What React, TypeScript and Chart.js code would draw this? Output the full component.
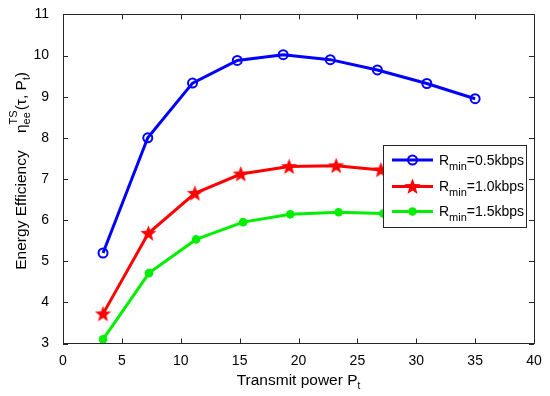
import React, { useEffect, useRef } from "react";
import { Chart, registerables } from "chart.js";

Chart.register(...registerables);

const xTicks = [0, 5, 10, 15, 20, 25, 30, 35, 40];
const yTicks = [3, 4, 5, 6, 7, 8, 9, 10, 11];

const blueX = [3.4, 7.2, 11.0, 14.8, 18.7, 22.7, 26.7, 30.9, 35.0];
const blueY = [5.2, 8.0, 9.33, 9.88, 10.02, 9.9, 9.65, 9.32, 8.95];
const redX = [3.4, 7.25, 11.2, 15.1, 19.2, 23.2, 27.0, 31.0, 35.0];
const redY = [3.72, 5.68, 6.65, 7.12, 7.3, 7.32, 7.22, 7.05, 6.85];
const greenX = [3.4, 7.3, 11.3, 15.3, 19.3, 23.4, 27.2, 31.1, 35.0];
const greenY = [3.1, 4.71, 5.53, 5.95, 6.14, 6.19, 6.16, 6.1, 6.0];

const seriesNames = ["0.5kbps", "1.0kbps", "1.5kbps"];
const seriesColors = ["#0000ff", "#ff0000", "#00ee00"];

const FONT = "'Liberation Sans', Arial, Helvetica, sans-serif";
const AXIS_COLOR = "#262626";

function makeStar(color: string, r: number): HTMLCanvasElement {
  const size = Math.ceil(r * 2 + 2);
  const c = document.createElement("canvas");
  c.width = size;
  c.height = size;
  const ctx = c.getContext("2d")!;
  const cx = size / 2;
  const cy = size / 2 + 0.5;
  const ri = r * 0.42;
  ctx.beginPath();
  for (let i = 0; i < 10; i++) {
    const rad = i % 2 === 0 ? r : ri;
    const a = -Math.PI / 2 + (i * Math.PI) / 5;
    const px = cx + rad * Math.cos(a);
    const py = cy + rad * Math.sin(a);
    if (i === 0) ctx.moveTo(px, py);
    else ctx.lineTo(px, py);
  }
  ctx.closePath();
  ctx.fillStyle = color;
  ctx.fill();
  return c;
}

type Seg = { t: string; size: number; dy: number; stackWith?: boolean };

function segWidth(ctx: CanvasRenderingContext2D, segs: Seg[]): number {
  let w = 0;
  let lastW = 0;
  for (const s of segs) {
    ctx.font = `${s.size}px ${FONT}`;
    const mw = ctx.measureText(s.t).width;
    if (s.stackWith) {
      w += Math.max(0, mw - lastW);
      lastW = Math.max(mw, lastW);
    } else {
      w += mw;
      lastW = mw;
    }
  }
  return w;
}

function drawSegs(ctx: CanvasRenderingContext2D, segs: Seg[], x: number, y: number) {
  let cx = x;
  let lastStart = x;
  let lastW = 0;
  for (const s of segs) {
    ctx.font = `${s.size}px ${FONT}`;
    const mw = ctx.measureText(s.t).width;
    if (s.stackWith) {
      ctx.fillText(s.t, lastStart, y + s.dy);
      cx = lastStart + Math.max(mw, lastW);
      lastW = Math.max(mw, lastW);
    } else {
      lastStart = cx;
      ctx.fillText(s.t, cx, y + s.dy);
      cx += mw;
      lastW = mw;
    }
  }
}

function makeDecorPlugin(star: HTMLCanvasElement) {
  return {
    id: "decor",
    afterDatasetsDraw(chart: any) {
      const ctx: CanvasRenderingContext2D = chart.ctx;
      const { left, right, top, bottom } = chart.chartArea;
      const xs = chart.scales.x;
      const ys = chart.scales.y;
      ctx.save();
      ctx.strokeStyle = AXIS_COLOR;
      ctx.lineWidth = 1;
      ctx.strokeRect(Math.round(left) + 0.5, Math.round(top) + 0.5, Math.round(right - left), Math.round(bottom - top));
      const tl = 5;
      ctx.beginPath();
      for (const v of xTicks) {
        const px = Math.round(xs.getPixelForValue(v)) + 0.5;
        ctx.moveTo(px, bottom);
        ctx.lineTo(px, bottom - tl);
        ctx.moveTo(px, top);
        ctx.lineTo(px, top + tl);
      }
      for (const v of yTicks) {
        const py = Math.round(ys.getPixelForValue(v)) + 0.5;
        ctx.moveTo(left, py);
        ctx.lineTo(left + tl, py);
        ctx.moveTo(right, py);
        ctx.lineTo(right - tl, py);
      }
      ctx.stroke();

      // legend
      const lx = 383.5;
      const ly = 145.5;
      const lw = 143;
      const lh = 82;
      ctx.fillStyle = "#ffffff";
      ctx.fillRect(lx, ly, lw, lh);
      ctx.strokeStyle = AXIS_COLOR;
      ctx.strokeRect(lx, ly, lw, lh);
      const rows = [160, 186.5, 211.5];
      rows.forEach((ry: number, i: number) => {
        ctx.strokeStyle = seriesColors[i];
        ctx.lineWidth = 3;
        ctx.beginPath();
        ctx.moveTo(392, ry);
        ctx.lineTo(433, ry);
        ctx.stroke();
        const mx = 412.5;
        if (i === 0) {
          ctx.lineWidth = 2;
          ctx.beginPath();
          ctx.arc(mx, ry, 4.5, 0, Math.PI * 2);
          ctx.stroke();
        } else if (i === 1) {
          ctx.drawImage(star, mx - star.width / 2, ry - star.height / 2);
        } else {
          ctx.fillStyle = seriesColors[2];
          ctx.beginPath();
          ctx.arc(mx, ry, 4.3, 0, Math.PI * 2);
          ctx.fill();
        }
        ctx.fillStyle = "#000";
        ctx.textBaseline = "alphabetic";
        ctx.textAlign = "left";
        drawSegs(
          ctx,
          [
            { t: "R", size: 14, dy: 0 },
            { t: "min", size: 11, dy: 5 },
            { t: "=" + seriesNames[i], size: 14, dy: 0 },
          ],
          439,
          ry + 4.5
        );
      });

      // x title
      ctx.fillStyle = "#000";
      ctx.textAlign = "left";
      ctx.textBaseline = "alphabetic";
      const xSegs: Seg[] = [
        { t: "Transmit power P", size: 15.5, dy: 0 },
        { t: "t", size: 10, dy: 4 },
      ];
      const xw = segWidth(ctx, xSegs);
      drawSegs(ctx, xSegs, (left + right) / 2 - xw / 2, 385);

      // y title
      const ySegs: Seg[] = [
        { t: "Energy Efficiency    η", size: 15.5, dy: 0 },
        { t: "TS", size: 11, dy: -9 },
        { t: "ee", size: 11, dy: 4, stackWith: true },
        { t: "(τ, P", size: 15.5, dy: 0 },
        { t: "t", size: 10, dy: 4 },
        { t: ")", size: 15.5, dy: 0 },
      ];
      const yw = segWidth(ctx, ySegs);
      ctx.translate(26, (top + bottom) / 2 - 8);
      ctx.rotate(-Math.PI / 2);
      drawSegs(ctx, ySegs, -yw / 2, 0);
      ctx.restore();
    },
  };
}

export default function App() {
  const ref = useRef<HTMLCanvasElement | null>(null);
  useEffect(() => {
    document.body.style.margin = "0";
    const canvas = ref.current!;
    const star = makeStar(seriesColors[1], 8.5);
    const mk = (xs: number[], ys: number[]) => xs.map((x, i) => ({ x, y: ys[i] }));
    const chart = new Chart(canvas, {
      type: "scatter",
      data: {
        datasets: [
          {
            label: seriesNames[0],
            data: mk(blueX, blueY),
            showLine: true,
            borderColor: seriesColors[0],
            borderWidth: 3,
            pointStyle: "circle",
            pointRadius: 4.5,
            pointBorderWidth: 2,
            pointBorderColor: seriesColors[0],
            pointBackgroundColor: "rgba(0,0,0,0)",
          },
          {
            label: seriesNames[1],
            data: mk(redX, redY),
            showLine: true,
            borderColor: seriesColors[1],
            borderWidth: 3,
            pointStyle: star as any,
            pointRadius: 8.5,
          },
          {
            label: seriesNames[2],
            data: mk(greenX, greenY),
            showLine: true,
            borderColor: seriesColors[2],
            borderWidth: 3,
            pointStyle: "circle",
            pointRadius: 4.3,
            pointBorderWidth: 0,
            pointBackgroundColor: seriesColors[2],
          },
        ],
      },
      options: {
        responsive: false,
        animation: false,
        layout: { padding: { top: 13, right: 16, left: 0, bottom: 0 } },
        plugins: { legend: { display: false }, tooltip: { enabled: false } },
        scales: {
          x: {
            type: "linear",
            min: 0,
            max: 40,
            grid: { display: false },
            border: { display: false },
            afterBuildTicks: (s: any) => {
              s.ticks = xTicks.map((v) => ({ value: v }));
            },
            afterFit: (s: any) => {
              s.height = 52.5;
            },
            ticks: {
              padding: 1,
              color: "#000",
              font: { family: FONT, size: 14 },
              maxRotation: 0,
            },
          },
          y: {
            type: "linear",
            min: 3,
            max: 11,
            grid: { display: false },
            border: { display: false },
            afterBuildTicks: (s: any) => {
              s.ticks = yTicks.map((v) => ({ value: v }));
            },
            afterFit: (s: any) => {
              s.width = 63;
            },
            ticks: {
              padding: 6,
              color: "#000",
              font: { family: FONT, size: 14 },
            },
          },
        },
      },
      plugins: [makeDecorPlugin(star)],
    });
    return () => chart.destroy();
  }, []);
  return (
    <div style={{ width: 550, height: 396, position: "relative", background: "#fff" }}>
      <canvas ref={ref} width={550} height={396} style={{ width: 550, height: 396, display: "block" }} />
    </div>
  );
}
